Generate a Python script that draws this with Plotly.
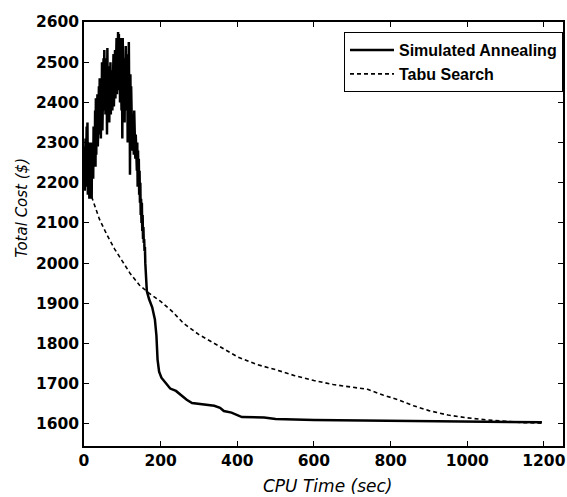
import plotly.graph_objects as go

# Simulated annealing: noisy start (every 1 s up to 159 s), then the cooling tail
sa_time = list(range(0, 160)) + [
    160, 164, 170, 178, 185, 189, 192, 196, 202, 212, 225, 240, 255, 268, 282,
    300, 320, 340, 355, 365, 385, 400, 412, 470, 500, 600, 700, 800, 900, 1000,
    1100, 1195,
]
sa_cost = [
    2200, 2290, 2180, 2260, 2310, 2190, 2230, 2340, 2200, 2350,
    2170, 2300, 2210, 2280, 2160, 2300, 2200, 2270, 2180, 2300,
    2160, 2290, 2230, 2260, 2210, 2340, 2240, 2330, 2250, 2380,
    2240, 2410, 2270, 2360, 2300, 2420, 2290, 2380, 2330, 2440,
    2320, 2460, 2350, 2440, 2310, 2420, 2380, 2500, 2330, 2470,
    2360, 2510, 2380, 2530, 2400, 2500, 2370, 2480, 2420, 2510,
    2320, 2535, 2380, 2490, 2400, 2470, 2350, 2460, 2380, 2500,
    2370, 2480, 2400, 2450, 2380, 2500, 2410, 2520, 2390, 2490,
    2420, 2530, 2410, 2490, 2440, 2560, 2420, 2540, 2450, 2575,
    2430, 2570, 2460, 2550, 2400, 2560, 2440, 2540, 2380, 2520,
    2310, 2560, 2400, 2530, 2380, 2500, 2350, 2510, 2420, 2540,
    2380, 2520, 2420, 2480, 2300, 2510, 2350, 2550, 2400, 2470,
    2220, 2470, 2380, 2440, 2300, 2380, 2280, 2370, 2290, 2360,
    2270, 2380, 2300, 2350, 2260, 2320, 2250, 2310, 2230, 2300,
    2190, 2280, 2200, 2260, 2170, 2230, 2150, 2200, 2120, 2160,
    2100, 2150, 2080, 2120, 2060, 2090, 2050, 2060, 2030, 2040,
    2000, 1930, 1910, 1890, 1860, 1820, 1760, 1730, 1715, 1702,
    1688, 1682, 1670, 1660, 1652, 1650, 1648, 1645, 1640, 1632,
    1628, 1622, 1617, 1616, 1612, 1610, 1609, 1608, 1607, 1606,
    1605, 1604,
]

tabu_time = [20, 40, 60, 80, 100, 120, 145, 170, 200, 230, 260, 300, 350, 400,
             450, 500, 550, 600, 650, 700, 740, 780, 820, 860, 900, 950, 1000,
             1050, 1100, 1150, 1195]
tabu_cost = [2165, 2110, 2070, 2035, 2005, 1975, 1945, 1925, 1905, 1880, 1850,
             1822, 1795, 1767, 1748, 1735, 1720, 1708, 1698, 1692, 1686, 1672,
             1660, 1645, 1633, 1622, 1615, 1610, 1606, 1603, 1602]

x_ticks = [0, 200, 400, 600, 800, 1000, 1200]
y_ticks = [1600, 1700, 1800, 1900, 2000, 2100, 2200, 2300, 2400, 2500, 2600]

fig = go.Figure()
fig.add_trace(go.Scatter(
    x=sa_time, y=sa_cost, mode="lines", name="Simulated Annealing",
    line=dict(color="black", width=2.5),
))
fig.add_trace(go.Scatter(
    x=tabu_time, y=tabu_cost, mode="lines", name="Tabu Search",
    line=dict(color="black", width=1.6, dash="4px,3px"),
))

axis_common = dict(
    showline=True, linecolor="black", linewidth=1.5, mirror="allticks",
    ticks="inside", ticklen=5, tickcolor="black", showgrid=False, zeroline=False,
    tickfont=dict(family="DejaVu Sans", size=15.5, color="black", weight="bold"),
)

fig.update_layout(
    width=567, height=497,
    paper_bgcolor="white", plot_bgcolor="white",
    margin=dict(l=84, r=2, t=22, b=51),
    showlegend=True,
    legend=dict(
        x=1, xanchor="right", y=0.976, yanchor="top",
        bgcolor="white", bordercolor="black", borderwidth=1,
        font=dict(family="Liberation Sans", size=16, color="black", weight="bold"),
        tracegroupgap=0, itemwidth=44,
    ),
    xaxis=dict(range=[0, 1250], tickvals=x_ticks, **axis_common),
    yaxis=dict(range=[1545, 2600], tickvals=y_ticks, **axis_common),
    annotations=[
        dict(text="CPU Time (sec)", x=0.508, y=-0.094, xref="paper", yref="paper",
             showarrow=False, xanchor="center", yanchor="middle",
             font=dict(family="DejaVu Sans", size=17, color="black", style="italic")),
        dict(text="Total Cost ($)", x=-0.13, y=0.561, xref="paper", yref="paper",
             showarrow=False, textangle=-90, xanchor="center", yanchor="middle",
             font=dict(family="DejaVu Sans", size=15, color="black", style="italic")),
    ],
)

fig.write_html("out.html", config={"displayModeBar": False},
               post_script="document.body.style.margin='0';")
